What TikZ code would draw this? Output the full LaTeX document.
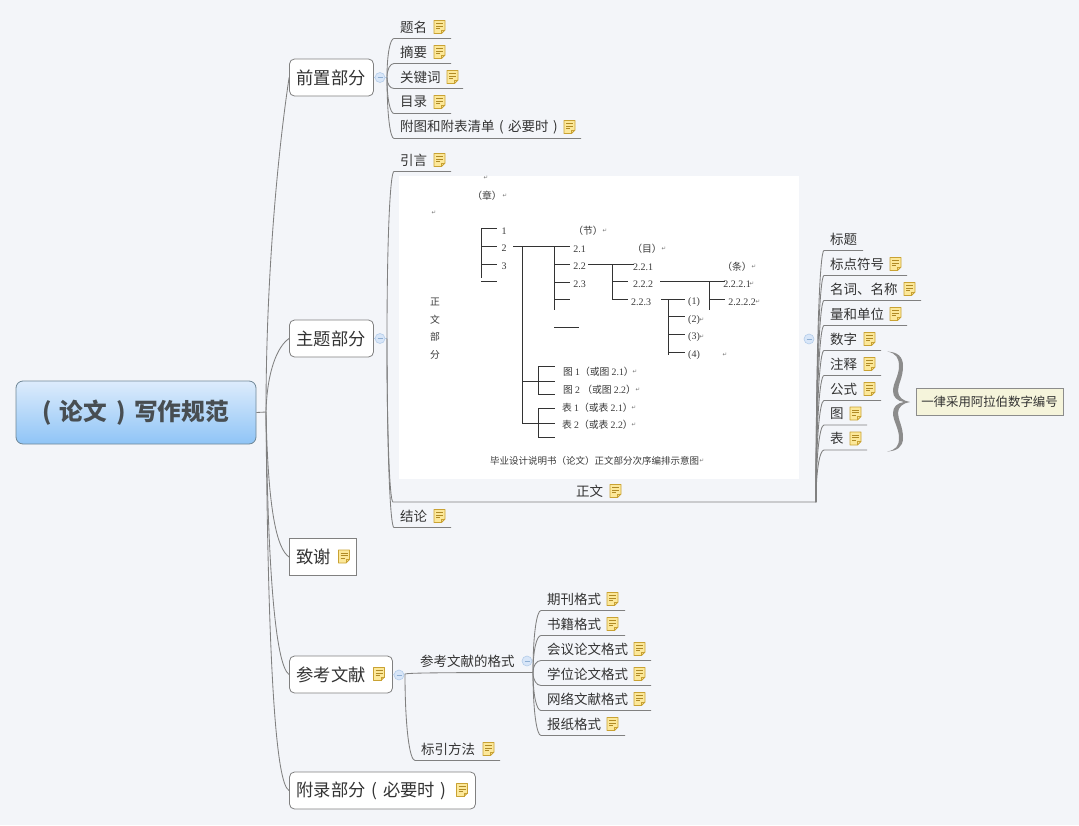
\documentclass[tikz,border=0pt]{standalone}
\usepackage{fontspec}
\usetikzlibrary{calc}
\setmainfont{Noto Sans CJK SC}
\newfontfamily\numfont{Liberation Serif}
\newfontfamily\arrowfont{DejaVu Sans}
\definecolor{bgc}{HTML}{F3F5F9}
\definecolor{ink}{HTML}{333333}
\definecolor{linec}{HTML}{808080}
\definecolor{docink}{HTML}{3A3A3A}
\definecolor{notefill}{HTML}{FCE89A}
\definecolor{noteedge}{HTML}{C9A233}
\definecolor{noteline}{HTML}{B08A25}
\definecolor{colfill}{HTML}{D8E6F8}
\definecolor{coledge}{HTML}{B4CDEA}
\definecolor{colminus}{HTML}{8FAFD3}
\definecolor{roottop}{HTML}{DDECFC}
\definecolor{rootbot}{HTML}{8FC4F6}
\definecolor{rootedge}{HTML}{6F8796}
\definecolor{roottext}{HTML}{484E52}
\newcommand\pL{\makebox[1em][c]{(}}
\newcommand\pR{\makebox[1em][c]{)}}
\tikzset{
  conn/.style={draw=linec,line width=0.85pt},
  lf/.style={font=\fontsize{13.5}{16}\selectfont,text=ink,inner sep=0pt,anchor=west},
  lone/.style={draw=linec,line width=0.8pt,rounded corners=5pt,fill=white,minimum height=37pt,inner xsep=7pt,inner ysep=0pt,font=\fontsize{17.3}{20}\selectfont,text=ink},
  collapse/.style={circle,draw=coledge,fill=colfill,line width=0.6pt,minimum size=10pt,inner sep=0pt,
    path picture={\draw[colminus,line width=0.7pt] ($(path picture bounding box.center)+(-2.5pt,0)$)--($(path picture bounding box.center)+(2.5pt,0)$);}},
  blueline/.style={draw=coledge,line width=0.7pt},
  docline/.style={draw=black!80,line width=0.9pt},
  doctext/.style={font=\fontsize{9.8}{11}\selectfont,text=docink,inner sep=0pt},
  docnum/.style={font=\numfont\fontsize{10}{11}\selectfont,text=docink,inner sep=0pt},
  docmark/.style={font=\arrowfont\fontsize{5.5}{6}\selectfont,text=black!55,inner sep=0pt},
  notepic/.pic={
    \fill[notefill,draw=noteedge,line width=0.9pt,line join=round]
      (-5.5,-6.5)--(5.5,-6.5)--(5.5,3)--(2,6.5)--(-5.5,6.5)--cycle;
    \draw[noteedge,line width=0.6pt] (5.5,3)--(2,3)--(2,6.5);
    \draw[noteline,line width=0.6pt] (-3.5,-3.5)--(3.5,-3.5) (-3.5,-1)--(3.5,-1) (-3.5,1.5)--(0.5,1.5);
  }
}
% name, text x, text y, text, underline end x
\newcommand\bareleaf[5]{%
  \node[lf] (#1) at (#2,#3) {#4};
  \coordinate (#1-s) at (#2-6,#3+11.5);
  \coordinate (#1-e) at (#5,#3+11.5);
}
% same, with icon x
\newcommand\leaf[6]{%
  \bareleaf{#1}{#2}{#3}{#4}{#5}
  \pic at (#6+5.5,#3) {notepic};
}
\newcommand\twig[2]{%
  \coordinate (k) at (#1 |- #2-s);
  \draw[conn] (#1) .. controls ($(k)!.4!(#1)$) and ($(k)!.45!(#2-s)$) .. (#2-s) -- (#2-e);
}
% style, name, x0, centre y, width, text
\newcommand\lonebox[6]{%
  \node[lone,#1,minimum width=#5] (#2) at (#3+#5/2,#4) {\pgfmathsetlengthmacro\innerw{#5-14}\makebox[\innerw][l]{#6}};
}
\newcommand\dl[3]{\node[doctext] at (#1,#2) {#3};}
\newcommand\dn[3]{\node[docnum] at (#1,#2) {#3};}
\newcommand\dm[2]{\node[docmark] at (#1,#2) {↵};}
\begin{document}
\begin{tikzpicture}[x=1pt,y=-1pt]
\useasboundingbox (0,0) rectangle (1079,825);
\fill[bgc] (0,0) rectangle (1079,825);

% root
\node[draw=rootedge,line width=0.8pt,rounded corners=7pt,top color=roottop,bottom color=rootbot,minimum width=240pt,minimum height=63pt,inner sep=0pt,font=\bfseries\fontsize{23.7}{26}\selectfont,text=roottext] (root) at (136,412.5) {\makebox[17pt][l]{(}论文\makebox[27pt][c]{)}写作规范};
\coordinate (hub0) at (266,412);
\draw[conn] (root.east) -- (hub0);

% level 1
\lonebox{}{qz}{289.5}{77.5}{84}{前置部分}
\lonebox{}{zt}{289.5}{338.5}{84}{主题部分}
\lonebox{sharp corners}{zx}{289.5}{557}{67}{致谢}
\lonebox{}{ck}{289.5}{674.5}{103}{参考文献}
\lonebox{}{fl}{289.5}{790.5}{186}{附录部分\pL 必要时\pR}
\pic at (344,556.5) {notepic};
\pic at (379,674) {notepic};
\pic at (462,790) {notepic};

\draw[conn] (hub0) .. controls +(0,-130) and +(-12,80) .. (qz.west);
\draw[conn] (hub0) .. controls +(1,-40) and +(-12,8) .. (zt.west);
\draw[conn] (hub0) .. controls +(2,100) and +(-12,-8) .. (zx.west);
\draw[conn] (hub0) .. controls +(2,178) and +(-12,-8) .. (ck.west);
\draw[conn] (hub0) .. controls +(2,258) and +(-13,-6) .. (fl.west);

% collapse markers and hubs
\node[collapse] (c1) at (380,77.5) {};
\node[collapse] (c2) at (380,338.5) {};
\node[collapse] (c3) at (809,339) {};
\node[collapse] (c4) at (399,675) {};
\node[collapse] (c5) at (527,661) {};
\coordinate (h1) at (387,77.5);
\coordinate (h2) at (387,338.5);
\coordinate (h4) at (405,674);
\coordinate (h5) at (533,672.5);
\draw[blueline] (qz.east) -- (c1) -- (h1);
\draw[blueline] (zt.east) -- (c2) -- (h2);
\draw[blueline] (ck.east) -- (c4) -- (h4);

% front matter
\leaf{a1}{400}{27}{题名}{451}{434}
\leaf{a2}{400}{52}{摘要}{451}{434}
\leaf{a3}{400}{77}{关键词}{463}{447}
\leaf{a4}{400}{102}{目录}{451}{434}
\leaf{a5}{400}{127}{附图和附表清单\pL 必要时\pR}{581}{564}
\foreach \n in {a1,a2,a3,a4,a5}{\twig{h1}{\n}}

% main body
\leaf{b1}{400}{160}{引言}{451}{434}
\leaf{b3}{400}{516}{结论}{451}{434}
\twig{h2}{b1}
\twig{h2}{b3}

\node[lf] (b2) at (576,491) {正文};
\pic at (615.5,491) {notepic};
\coordinate (b2-s) at (393,502);
\coordinate (b2-e) at (816,502);
\twig{h2}{b2}

% embedded figure
\node[fill=white,minimum width=400pt,minimum height=303pt,inner sep=0pt] (img) at (599,327.5) {};
\draw[docline]
  (481,228)--(481,278) (481,228)--(497,228) (481,246)--(497,246) (481,264)--(497,264) (481,281)--(497,281)
  (513,246)--(570,246) (522,246)--(522,423) (554,246)--(554,310)
  (554,264)--(570,264) (554,282)--(570,282) (554,299)--(570,299) (554,327)--(579,327)
  (588,264)--(634,264) (612,264)--(612,299) (612,281.5)--(628,281.5) (612,299)--(628,299)
  (660,281.5)--(725,281.5) (709,281.5)--(709,310) (709,299)--(725,299)
  (661,299)--(685,299) (668,299)--(668,355) (668,316.5)--(685,316.5) (668,334)--(685,334) (668,352)--(685,352)
  (522,381)--(555,381) (538,366)--(538,394) (538,366)--(555,366) (538,394)--(555,394)
  (522,423)--(555,423) (538,408)--(538,437) (538,408)--(555,408) (538,437)--(555,437);
\dm{486}{178}
\dl{487}{196}{（章）}\dm{505}{196}
\dm{434}{213}
\dn{504}{231}{1}\dn{504}{248}{2}\dn{504}{266}{3}
\dl{588}{231}{（节）}\dm{605}{231}
\dn{579.5}{249}{2.1}\dn{579.5}{266}{2.2}\dn{579.5}{284}{2.3}
\dl{647}{249}{（目）}\dm{664}{249}
\dn{643}{267}{2.2.1}\dn{643}{284.5}{2.2.2}\dn{641}{302}{2.2.3}
\dl{737}{267}{（条）}\dm{754}{267}
\dn{737}{284}{2.2.2.1}\dm{752}{284}
\dn{742}{302}{2.2.2.2}\dm{758}{302}
\dn{694}{302}{(1)}\dn{694}{320}{(2)}\dm{702}{320}\dn{694}{337}{(3)}\dm{702}{337}\dn{694}{355}{(4)}\dm{725}{355}
\dl{435}{302}{正}\dl{435}{320}{文}\dl{435}{337}{部}\dl{435}{355}{分}
\node[doctext,anchor=west] at (563,372) {图 {\numfont 1}（或图 {\numfont 2.1}）};\dm{635}{372}
\node[doctext,anchor=west] at (563,390) {图 {\numfont 2} （或图 {\numfont 2.2}）};\dm{638}{390}
\node[doctext,anchor=west] at (562,408) {表 {\numfont 1}（或表 {\numfont 2.1}）};\dm{634}{408}
\node[doctext,anchor=west] at (562,425) {表 {\numfont 2}（或表 {\numfont 2.2}）};\dm{634}{425}
\node[doctext,anchor=west,font=\fontsize{9.5}{11}\selectfont] at (490,461) {毕业设计说明书（论文）正文部分次序编排示意图};\dm{702}{461}

% children of the body text
\bareleaf{d1}{830}{239}{标题}{863}
\leaf{d2}{830}{264}{标点符号}{907}{890}
\leaf{d3}{830}{289}{名词、名称}{921}{904}
\leaf{d4}{830}{314}{量和单位}{907}{890}
\leaf{d5}{830}{339}{数字}{881}{864}
\leaf{d6}{830}{364}{注释}{881}{864}
\leaf{d7}{830}{389}{公式}{881}{864}
\leaf{d8}{830}{413.5}{图}{867}{850}
\leaf{d9}{830}{438.5}{表}{867}{850}
\foreach \n in {d1,d2,d3,d4,d5,d6,d7,d8,d9}{\twig{b2-e}{\n}}

% brace and callout
\fill[black!45] (887,351.5) .. controls (897,352) and (903,356) .. (903,366) .. controls (903,378) and (898,384) .. (898,391) .. controls (898,397) and (903,401) .. (910,402) .. controls (903,403) and (898,407) .. (898,413) .. controls (898,420) and (903,426) .. (903,438) .. controls (903,447) and (897,451) .. (887,451.5) .. controls (896,450) and (899,446) .. (899,438) .. controls (899,428) and (893,421) .. (893,413) .. controls (893,407) and (897,403) .. (904,402) .. controls (897,401) and (893,397) .. (893,391) .. controls (893,383) and (899,376) .. (899,366) .. controls (899,358) and (896,353) .. (887,351.5) -- cycle;
\node[draw=black!45,line width=0.7pt,fill=yellow!12!bgc,minimum width=147pt,minimum height=27pt,inner sep=0pt,font=\fontsize{12.4}{14}\selectfont,text=ink] (callout) at (989.5,401.5) {一律采用阿拉伯数字编号};

% references
\node[lf] (e0) at (420,661) {参考文献的格式};
\coordinate (e0-e) at (533,672.5);
\draw[conn] (h4) .. controls +(3,-1) and +(-100,0) .. (e0-e);
\leaf{e7}{421}{749}{标引方法}{500}{483}
\twig{h4}{e7}
\leaf{f1}{547}{599}{期刊格式}{625}{607}
\leaf{f2}{547}{624}{书籍格式}{625}{607}
\leaf{f3}{547}{649}{会议论文格式}{651}{634}
\leaf{f4}{547}{674}{学位论文格式}{651}{634}
\leaf{f5}{547}{699}{网络文献格式}{651}{634}
\leaf{f6}{547}{724}{报纸格式}{625}{607}
\foreach \n in {f1,f2,f3,f4,f5,f6}{\twig{h5}{\n}}
\end{tikzpicture}
\end{document}
